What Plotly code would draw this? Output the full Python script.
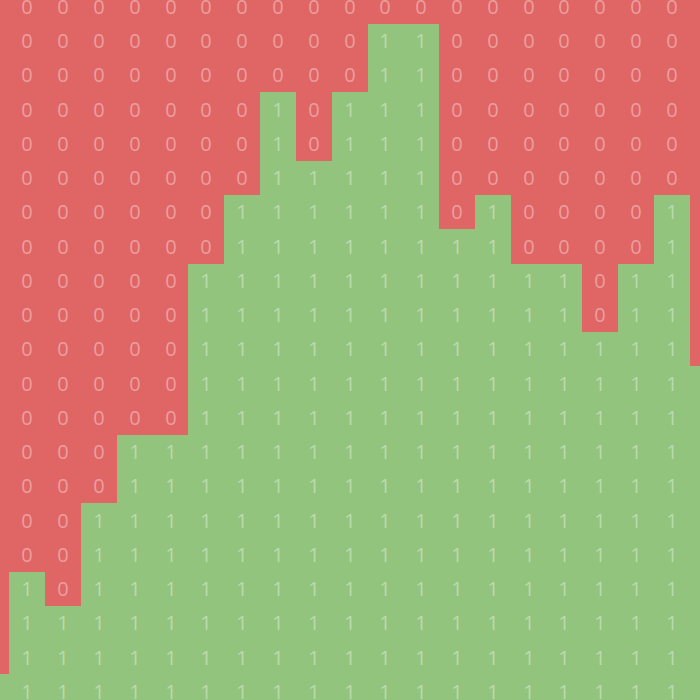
import plotly.graph_objects as go

# Column heights: number of "1" cells counted from the bottom row, left to right
# (first and last columns are only partly visible)
column_heights = [1, 4, 3, 6, 8, 8, 13, 15, 18, 16, 18, 20, 20, 14, 15, 13, 13, 11, 13, 15, 10]
n_rows = 21
n_cols = len(column_heights)

col_index = list(range(n_cols))
row_index = list(range(n_rows))

z = [[1 if r < column_heights[c] else 0 for c in col_index] for r in row_index]
text = [[str(v) for v in row] for row in z]

RED = "#e06666"
GREEN = "#93c47d"

fig = go.Figure(
    go.Heatmap(
        z=z,
        x=col_index,
        y=row_index,
        text=text,
        texttemplate="%{text}",
        textfont=dict(family="Open Sans", size=20, color="rgba(255,255,255,0.38)"),
        colorscale=[[0, RED], [0.5, RED], [0.5, GREEN], [1, GREEN]],
        zmin=0,
        zmax=1,
        showscale=False,
        hoverinfo="skip",
    )
)

fig.update_layout(
    width=700,
    height=700,
    margin=dict(l=0, r=0, t=0, b=0),
    paper_bgcolor="white",
    plot_bgcolor="white",
    xaxis=dict(range=[0.237, 19.79], visible=False, showgrid=False, zeroline=False),
    yaxis=dict(range=[-0.234, 20.2], visible=False, showgrid=False, zeroline=False),
)

fig.write_html(
    "out.html",
    config={"displayModeBar": False},
    post_script="document.body.style.margin='0';document.body.style.overflow='hidden';",
)
